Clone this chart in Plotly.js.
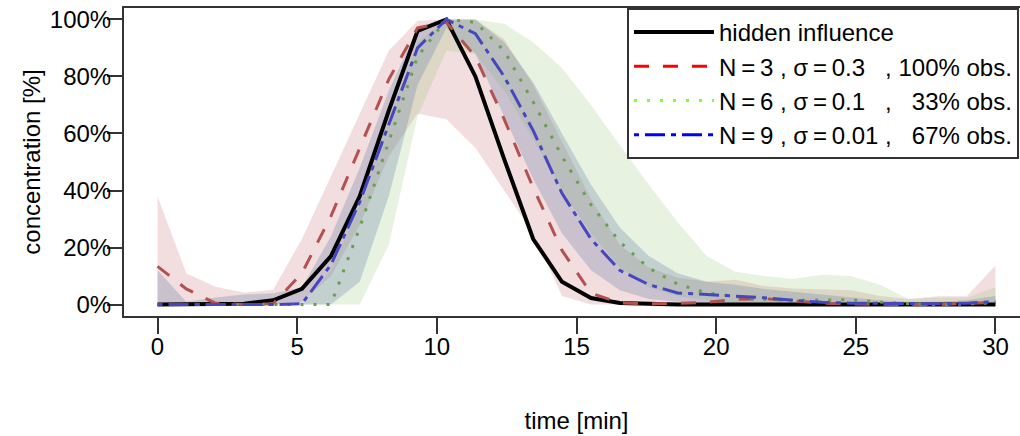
<!DOCTYPE html>
<html>
<head>
<meta charset="utf-8">
<script src="https://cdn.plot.ly/plotly-3.0.1.min.js"></script>
<style>
html,body{margin:0;padding:0;overflow:hidden;background:#fff;}
#chart{width:1040px;height:436px;}
</style>
</head>
<body>
<div id="chart"></div>
<script>
// time points [min]
const time = [0, 1.03, 2.07, 3.10, 4.14, 5.17, 6.21, 7.24, 8.28, 9.31, 10.34, 11.38, 12.41, 13.45, 14.48,
              15.52, 16.55, 17.59, 18.62, 19.66, 20.69, 21.72, 22.76, 23.79, 24.83, 25.86, 26.90, 27.93, 28.97, 30];
// concentration [%]
const hidden = [0, 0, 0, 0.3, 1.5, 5.5, 17, 38, 68, 96, 100, 80, 51, 23, 8, 2.3, 0.6, 0.2, 0, 0,
                0, 0, 0, 0, 0, 0, 0, 0, 0, 0];
const n3Mean = [13.4, 5.5, 0.5, 0, 0.3, 11, 31, 55, 79, 97, 99, 87, 65, 41, 19, 4, 0.6, 0.3, 0.4, 0.8,
                1.8, 2.1, 1.4, 0.5, 0.2, 0, 0, 0, 0.3, 0.8];
const n3Lo   = [0, 0, 0, 0, 0, 1, 10, 28, 52, 67, 65, 55, 40, 25, 3, 0, 0, 0, 0, 0,
                0, 0, 0, 0, 0, 0, 0, 0, 0, 0];
const n3Hi   = [38, 11, 6.3, 4.2, 5.2, 23, 45, 67, 89, 99.5, 100, 100, 93, 77, 57, 37, 21, 13, 9.5, 8,
                8.7, 6.5, 5.6, 5.3, 5, 3, 2, 2.9, 2.9, 13.7];
const n6Mean = [0, 0, 0, 0, 0, 0, 0, 27, 57, 87, 100, 99, 89, 71, 52, 35, 22, 12.8, 7.2, 4.1,
                2.8, 1.9, 1.5, 1.7, 1.7, 0.9, 0.3, 0, 0.2, 0.7];
const n6Lo   = [0, 0, 0, 0, 0, 0, 0, 0, 21, 66, 89, 88, 75, 58, 40, 25, 13, 6, 3, 1.5,
                0.5, 0, 0, 0, 0, 0, 0, 0, 0, 0];
const n6Hi   = [0, 0, 0, 0, 0, 0, 12, 35, 65, 92, 100, 100, 98.5, 92, 83, 70, 56, 42, 29, 17,
                11.5, 10, 9, 10.5, 10, 7, 2, 2.5, 2.5, 6];
const n9Mean = [0, 0, 0, 0, 0, 0.3, 14, 36, 63, 90, 100, 95, 80, 61, 39, 23, 12, 7, 4.1, 3.6,
                3, 2.4, 1.5, 0.8, 0.5, 0.4, 0.3, 0.3, 0.5, 1];
const n9Lo   = [0, 0, 0, 0, 0, 0, 0, 8, 38, 77, 97, 88, 66, 44, 25, 12, 5, 2, 1, 0,
                0, 0, 0, 0, 0, 0, 0, 0, 0, 0];
const n9Hi   = [12, 1, 2.5, 3.5, 4, 6, 24, 48, 75, 97, 100, 100, 92, 78, 60, 42, 27, 17, 11, 8,
                7, 5.5, 4.5, 3.5, 2.5, 1.5, 1, 1, 1.5, 3];

const xTicks = [0, 5, 10, 15, 20, 25, 30];
const yTicks = [0, 20, 40, 60, 80, 100];
const yTickText = ["0%", "20%", "40%", "60%", "80%", "100%"];

const seriesNames = ["hidden influence",
  "N\u2009=\u20093\u00a0,\u00a0σ\u2009=\u20090.3\u00a0\u00a0\u00a0,\u00a0100%\u00a0obs.",
  "N\u2009=\u20096\u00a0,\u00a0σ\u2009=\u20090.1\u00a0\u00a0\u00a0,\u00a0\u00a0\u00a033%\u00a0obs.",
  "N\u2009=\u20099\u00a0,\u00a0σ\u2009=\u20090.01\u00a0,\u00a0\u00a0\u00a067%\u00a0obs."];

function band(lo, hi, color) {
  return {
    x: time.concat(time.slice().reverse()),
    y: hi.concat(lo.slice().reverse()),
    type: 'scatter', mode: 'lines', fill: 'toself', fillcolor: color,
    line: {width: 0, color: color}, hoverinfo: 'skip', showlegend: false
  };
}
function line(y, color, width, dash) {
  return {x: time, y: y, type: 'scatter', mode: 'lines',
          line: {color: color, width: width, dash: dash}, showlegend: false};
}
function legendItem(name, color, width, dash) {
  return {x: [null], y: [null], xaxis: 'x2', yaxis: 'y2', type: 'scatter', mode: 'lines', name: name,
          line: {color: color, width: width, dash: dash}, showlegend: true};
}

const traces = [
  band(n3Lo, n3Hi, 'rgba(190,90,90,0.2)'),
  band(n6Lo, n6Hi, 'rgba(140,190,100,0.2)'),
  band(n9Lo, n9Hi, 'rgba(80,110,160,0.25)'),
  line(hidden, '#000000', 4, 'solid'),
  line(n3Mean, '#b4504f', 3, '15px,14px'),
  line(n6Mean, '#6a9e52', 3, '3px,10px'),
  line(n9Mean, '#4646c0', 3, '5px,6px,20px,6px'),
  legendItem(seriesNames[0], '#000000', 4, 'solid'),
  legendItem(seriesNames[1], '#ff0000', 3, '15px,14px'),
  legendItem(seriesNames[2], '#80ff30', 3, '3px,10px'),
  legendItem(seriesNames[3], '#0000ff', 3, '5px,6px,20px,6px')
];

const font = {family: 'Liberation Sans, Arial, Helvetica, sans-serif', size: 24, color: '#000'};
const xRange = [-1.2, 31.2];
const yRange = [-4, 104];

const layout = {
  width: 1040, height: 436,
  margin: {l: 124, r: 11, t: 8, b: 120, pad: 0},
  paper_bgcolor: '#fff', plot_bgcolor: '#fff',
  font: font,
  showlegend: true,
  // axes carrying the frame and tick marks
  xaxis: {
    range: xRange, tickvals: xTicks, ticks: 'outside', ticklen: 16, tickwidth: 2,
    tickcolor: '#333', showline: true, linecolor: '#333', linewidth: 2, mirror: true,
    showgrid: false, zeroline: false, showticklabels: false
  },
  yaxis: {
    range: yRange, tickvals: yTicks, ticks: 'outside', ticklen: 15,
    tickwidth: 2, tickcolor: '#333', showline: true, linecolor: '#333', linewidth: 2, mirror: true,
    showgrid: false, zeroline: false, showticklabels: false
  },
  // overlaid axes carrying the tick labels and titles
  xaxis2: {
    overlaying: 'x', side: 'bottom', anchor: 'y2', range: xRange, tickvals: xTicks,
    ticks: 'outside', ticklen: 9, tickcolor: 'rgba(0,0,0,0)', showline: false,
    showgrid: false, zeroline: false, tickfont: font,
    title: {text: 'time [min]', font: font, standoff: 53}
  },
  yaxis2: {
    overlaying: 'y', side: 'left', anchor: 'x2', range: yRange, tickvals: yTicks, ticktext: yTickText,
    ticks: 'outside', ticklen: 7, tickcolor: 'rgba(0,0,0,0)', showline: false,
    showgrid: false, zeroline: false, tickfont: font,
    title: {text: 'concentration [%]', font: font, standoff: 2}
  },
  legend: {
    x: 0.5558, y: 1, xanchor: 'left', yanchor: 'top', bgcolor: '#fff',
    bordercolor: '#333', borderwidth: 2, font: font, itemwidth: 80, tracegroupgap: 0
  }
};

Plotly.newPlot('chart', traces, layout, {staticPlot: true, displayModeBar: false});
</script>
</body>
</html>
